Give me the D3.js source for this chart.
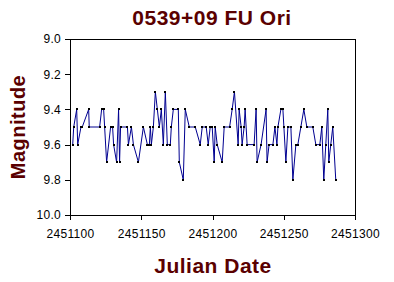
<!DOCTYPE html>
<html>
<head>
<meta charset="utf-8">
<script src="https://cdn.jsdelivr.net/npm/d3@7"></script>
<style>
  body { margin: 0; background: #fff; }
  svg { display: block; }
</style>
</head>
<body>
<svg id="chart" width="394" height="282"></svg>
<script>
// observations: julian date and visual magnitude
var jd = [
    2451101.9, 2451102.6, 2451104.7, 2451105.4, 2451107.7, 2451108.6, 2451113.1, 2451113.5,
    2451120.8, 2451122.2, 2451123.6, 2451124.3, 2451125.7, 2451128.5, 2451129.9, 2451130.6,
    2451132.7, 2451134.1, 2451134.8, 2451135.5, 2451140.3, 2451141.0, 2451143.1, 2451144.5,
    2451148.0, 2451151.5, 2451154.3, 2451155.7, 2451156.4, 2451157.1, 2451158.5, 2451159.9,
    2451161.3, 2451162.7, 2451164.1, 2451165.5, 2451166.9, 2451168.3, 2451170.4, 2451171.1,
    2451172.5, 2451176.0, 2451176.7, 2451179.5, 2451180.9, 2451183.7, 2451187.9, 2451191.4,
    2451192.8, 2451195.6, 2451197.0, 2451198.4, 2451199.8, 2451201.2, 2451201.9, 2451203.3,
    2451206.8, 2451208.2, 2451212.0, 2451213.8, 2451215.4, 2451218.0, 2451218.7, 2451220.1,
    2451220.8, 2451222.2, 2451222.9, 2451224.3, 2451229.2, 2451230.6, 2451231.3, 2451234.1,
    2451237.6, 2451238.3, 2451239.7, 2451242.4, 2451243.8, 2451245.2, 2451245.9, 2451248.0,
    2451249.4, 2451250.1, 2451251.5, 2451252.9, 2451255.0, 2451256.4, 2451258.5, 2451259.9,
    2451262.0, 2451264.1, 2451266.2, 2451270.4, 2451272.5, 2451275.3, 2451276.7, 2451278.1,
    2451279.5, 2451280.9, 2451281.6, 2451283.0, 2451284.4, 2451286.5
];
var mag = [
    9.6, 9.5, 9.4, 9.6, 9.5, 9.5, 9.4, 9.5,
    9.5, 9.4, 9.4, 9.5, 9.7, 9.5, 9.5, 9.6,
    9.7, 9.4, 9.7, 9.5, 9.5, 9.6, 9.5, 9.6,
    9.7, 9.5, 9.6, 9.6, 9.5, 9.6, 9.5, 9.3,
    9.4, 9.5, 9.4, 9.6, 9.3, 9.6, 9.6, 9.5,
    9.4, 9.4, 9.7, 9.8, 9.4, 9.5, 9.5, 9.6,
    9.5, 9.5, 9.6, 9.5, 9.5, 9.7, 9.5, 9.6,
    9.7, 9.5, 9.5, 9.4, 9.3, 9.6, 9.4, 9.5,
    9.6, 9.5, 9.4, 9.6, 9.6, 9.4, 9.7, 9.6,
    9.4, 9.7, 9.6, 9.6, 9.5, 9.6, 9.5, 9.4,
    9.4, 9.5, 9.7, 9.5, 9.5, 9.8, 9.6, 9.6,
    9.5, 9.4, 9.5, 9.5, 9.6, 9.6, 9.5, 9.8,
    9.6, 9.4, 9.7, 9.6, 9.5, 9.8
];
var xTicks = [2451100, 2451150, 2451200, 2451250, 2451300];
var yTicks = [9.0, 9.2, 9.4, 9.6, 9.8, 10.0];

var data = jd.map(function(d, i) { return { jd: d, mag: mag[i] }; });

var svg = d3.select("svg#chart"),
    margin = { top: 39, right: 39, bottom: 67, left: 70 },
    width = +svg.attr("width") - margin.left - margin.right,
    height = +svg.attr("height") - margin.top - margin.bottom,
    g = svg.append("g")
        .attr("transform", "translate(" + margin.left + "," + margin.top + ")");

var brown = "#5a0000";
var font = "'Liberation Sans', Arial, sans-serif";

var x = d3.scaleLinear().domain([2451100, 2451300]).range([0, width]);
var y = d3.scaleLinear().domain([9.0, 10.0]).range([0, height]);

// plot frame
g.append("rect")
    .attr("x", 0)
    .attr("y", 0)
    .attr("width", width)
    .attr("height", height)
    .attr("fill", "none")
    .attr("stroke", "#000")
    .attr("shape-rendering", "crispEdges");

var xAxis = g.append("g")
    .attr("transform", "translate(0," + height + ")")
    .call(d3.axisBottom(x).tickValues(xTicks).tickSize(5).tickSizeOuter(0).tickPadding(9)
        .tickFormat(d3.format("d")));

var yAxis = g.append("g")
    .call(d3.axisLeft(y).tickValues(yTicks).tickSize(5).tickSizeOuter(0).tickPadding(4)
        .tickFormat(d3.format(".1f")));

[xAxis, yAxis].forEach(function(a) {
    a.select(".domain").attr("stroke", "#000").attr("shape-rendering", "crispEdges");
    a.selectAll(".tick line").attr("stroke", "#000").attr("shape-rendering", "crispEdges");
    a.selectAll("text")
        .attr("fill", "#000")
        .style("font-family", font)
        .style("font-size", "12px")
        .style("letter-spacing", "0.3px");
});

var line = d3.line()
    .x(d => x(d.jd))
    .y(d => y(d.mag));

g.append("path")
    .datum(data)
    .attr("fill", "none")
    .attr("stroke", "#000090")
    .attr("stroke-width", 1)
    .attr("d", line);

g.append("g")
    .selectAll("rect")
    .data(data)
    .enter()
    .append("rect")
    .attr("x", d => Math.round(x(d.jd)) - 1)
    .attr("y", d => Math.round(y(d.mag)) - 1)
    .attr("width", 2)
    .attr("height", 2)
    .attr("fill", "#000");

svg.append("text")
    .attr("x", 212)
    .attr("y", 25)
    .attr("text-anchor", "middle")
    .attr("fill", brown)
    .style("font-family", font)
    .style("font-size", "21px")
    .style("font-weight", "bold")
    .style("letter-spacing", "0.5px")
    .text("0539+09 FU Ori");

svg.append("text")
    .attr("x", 213)
    .attr("y", 273)
    .attr("text-anchor", "middle")
    .attr("fill", brown)
    .style("font-family", font)
    .style("font-size", "21px")
    .style("font-weight", "bold")
    .style("letter-spacing", "0.5px")
    .text("Julian Date");

svg.append("text")
    .attr("transform", "translate(25,127) rotate(-90)")
    .attr("text-anchor", "middle")
    .attr("fill", brown)
    .style("font-family", font)
    .style("font-size", "20px")
    .style("font-weight", "bold")
    .style("letter-spacing", "0.5px")
    .text("Magnitude");
</script>
</body>
</html>
